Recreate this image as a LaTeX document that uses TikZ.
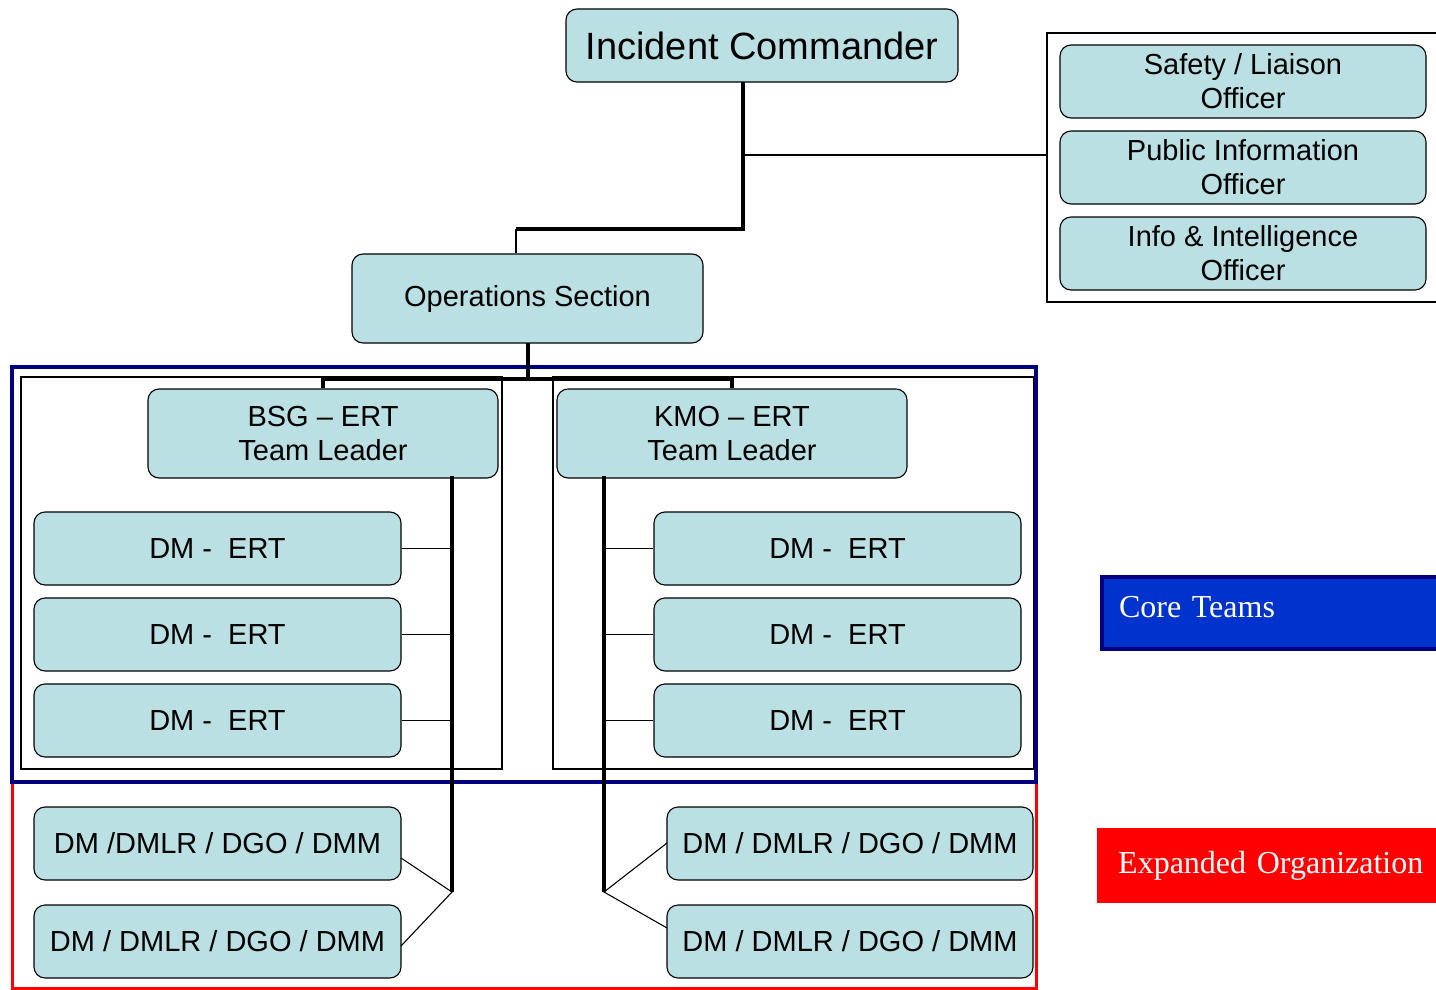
\documentclass[tikz,border=0pt]{standalone}
\usepackage{fontspec}
\setmainfont{Liberation Sans}
\newfontfamily\legendfont{Liberation Serif}
\definecolor{boxc}{RGB}{186,224,227}
\definecolor{navyc}{RGB}{0,0,128}
\definecolor{coreblue}{RGB}{0,51,204}
\definecolor{redc}{RGB}{255,0,0}
\begin{document}
\begin{tikzpicture}[x=1pt,y=-1pt,
  box/.style={draw=black, line width=1.1pt, fill=boxc, rounded corners=11pt, inner sep=0pt,
    align=center, font=\fontsize{29}{34}\selectfont},
  thick conn/.style={line width=4.5pt},
  thin conn/.style={line width=1.1pt},
  frame/.style={draw=black, line width=1.1pt},
  legend/.style={anchor=north west, inner sep=0pt, inner xsep=21pt, align=left,
    text=white, font=\legendfont\fontsize{32}{36}\selectfont}]
\useasboundingbox (0,0) rectangle (1436,990);

% group frames
\draw[redc, line width=3pt] (12,782) -- (12,988) -- (1036,988) -- (1036,782);
\draw[frame] (21,377) rectangle (502,769);
\draw[frame] (553,377) rectangle (1034,769);
\draw[navyc, line width=4pt] (12,367) rectangle (1036,782);
\draw[frame] (1047,33) rectangle (1460,302);

% nodes
\node[box, minimum width=392pt, minimum height=73pt, font=\fontsize{38}{42}\selectfont] (ic) at (762,45.5) {Incident Commander};
\node[box, minimum width=351pt, minimum height=89pt] (ops) at (527.5,298.5) {Operations Section};

\node[box, minimum width=366pt, minimum height=73pt] (saf) at (1243,81.5) {Safety / Liaison\\Officer};
\node[box, minimum width=366pt, minimum height=73pt] (pub) at (1243,167.5) {Public Information\\Officer};
\node[box, minimum width=366pt, minimum height=73pt] (inf) at (1243,253.5) {Info \& Intelligence\\Officer};

\node[box, minimum width=350pt, minimum height=89pt] (bsg) at (323,433.5) {BSG -- ERT\\Team Leader};
\node[box, minimum width=350pt, minimum height=89pt] (kmo) at (732,433.5) {KMO -- ERT\\Team Leader};

\node[box, minimum width=367pt, minimum height=73pt] (l1) at (217.5,548.5) {DM -\ \ ERT};
\node[box, minimum width=367pt, minimum height=73pt] (l2) at (217.5,634.5) {DM -\ \ ERT};
\node[box, minimum width=367pt, minimum height=73pt] (l3) at (217.5,720.5) {DM -\ \ ERT};
\node[box, minimum width=367pt, minimum height=73pt] (r1) at (837.5,548.5) {DM -\ \ ERT};
\node[box, minimum width=367pt, minimum height=73pt] (r2) at (837.5,634.5) {DM -\ \ ERT};
\node[box, minimum width=367pt, minimum height=73pt] (r3) at (837.5,720.5) {DM -\ \ ERT};

\node[box, minimum width=367pt, minimum height=73pt] (le1) at (217.5,843.5) {DM /DMLR / DGO / DMM};
\node[box, minimum width=367pt, minimum height=73pt] (le2) at (217.5,941.5) {DM / DMLR / DGO / DMM};
\node[box, minimum width=366pt, minimum height=73pt] (re1) at (850,843.5) {DM / DMLR / DGO / DMM};
\node[box, minimum width=366pt, minimum height=73pt] (re2) at (850,941.5) {DM / DMLR / DGO / DMM};

% legend
\node[legend, fill=coreblue, draw=navyc, line width=4pt, inner xsep=17pt, minimum width=345pt, minimum height=72pt, text width=311pt] (core) at (1100,575) {\raisebox{12pt}{Core Teams}};
\node[legend, fill=redc, minimum width=345pt, minimum height=75pt, text width=320pt] (expd) at (1097,828) {Expanded Organization};

% coordinates
\coordinate (icb) at (743,82);
\coordinate (j1) at (743,229);
\coordinate (j2) at (516,229);
\coordinate (jo) at (743,155);
\coordinate (opsb) at (528,343);
\coordinate (j3) at (528,379);
\coordinate (bl) at (452,476);
\coordinate (bb) at (452,892);
\coordinate (kl) at (604,476);
\coordinate (kb) at (604,892);

% connectors top
\draw[thick conn] (icb) -- (j1) -- (j2);
\draw[thin conn] (j2) -- (j2 |- ops.north);
\draw[thin conn] (jo) -- (jo -| 1047,0);
\draw[thick conn] (opsb) -- (j3);
\draw[thick conn] (bsg.north) -- (bsg.north |- j3) -- (kmo.north |- j3) -- (kmo.north);

% left team
\draw[thin conn] (l1.east) -- (l1.east -| bl);
\draw[thin conn] (l2.east) -- (l2.east -| bl);
\draw[thin conn] (l3.east) -- (l3.east -| bl);
\draw[thin conn] (401,858) -- (bb) -- (401,946);
\draw[thick conn] (bl) -- (bb);

% right team
\draw[thin conn] (r1.west) -- (r1.west -| kl);
\draw[thin conn] (r2.west) -- (r2.west -| kl);
\draw[thin conn] (r3.west) -- (r3.west -| kl);
\draw[thin conn] (667,843) -- (kb) -- (667,928);
\draw[thick conn] (kl) -- (kb);
\end{tikzpicture}
\end{document}
